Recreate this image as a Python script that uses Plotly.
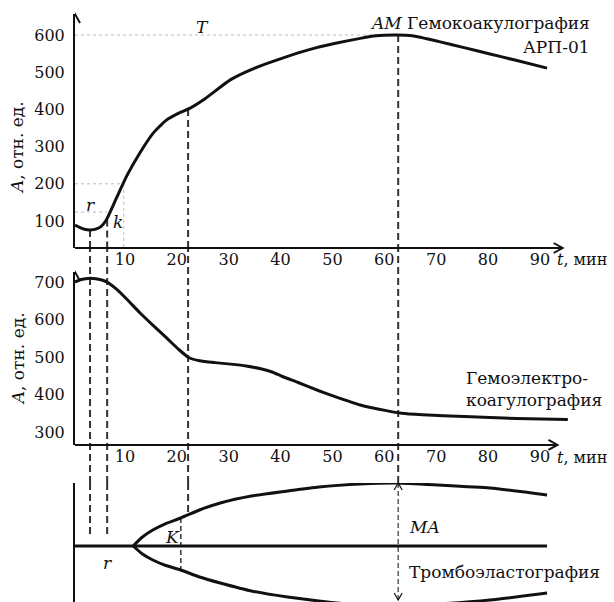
import plotly.graph_objects as go

# ---------------- data ----------------
ticks_t = [10, 20, 30, 40, 50, 60, 70, 80, 90]
ticks_top = [100, 200, 300, 400, 500, 600]
ticks_mid = [300, 400, 500, 600, 700]

# Гемокоакулография АРП-01
t_acoust = [0, 1, 2, 3, 4, 5, 6, 8, 10, 12.5, 15, 17.5, 20, 22, 25, 30, 35, 40, 45, 50, 55, 58, 62, 65, 70, 75, 80, 85, 91]
a_acoust = [89, 82, 77, 76, 78, 85, 102, 162, 222, 283, 335, 370, 390, 402, 428, 480, 513, 538, 560, 577, 591, 598, 600, 598, 583, 566, 549, 532, 511]

# Гемоэлектрокоагулография
t_elec = [0, 1, 2, 3, 4, 5, 6, 8, 10, 12.5, 15, 17.5, 20, 22, 24, 27, 30, 33, 36, 38, 40, 43, 47, 50, 55, 60, 63, 67, 75, 85, 95]
a_elec = [700, 706, 709, 710, 709, 706, 701, 681, 654, 618, 585, 553, 520, 498, 490, 485, 481, 476, 468, 460, 448, 432, 410, 395, 372, 357, 350, 346, 341, 336, 333]

# Тромбоэластография (envelope)
t_teg = [11.2, 13, 15, 17.5, 20.4, 24, 28, 34, 41, 47, 55, 62, 70, 80, 91]
teg_upper = [0, 9, 16, 22.5, 28, 36, 43, 50, 55, 59, 62, 63, 61, 58, 51]
teg_lower = [0, -8, -14, -19.5, -24, -31, -37, -45, -51, -55, -59, -60, -58, -54, -47]
t_base = [0, 91]
teg_base = [0, 0]

# marker times
t_r, t_k, t_T, t_K, t_AM = 2.9, 6.2, 21.8, 20.4, 62.3
a_r_top, a_k_top, a_T_top, a_AM_top = 76, 104, 401, 600

FONT = "DejaVu Serif"
BLACK = "#111"
DASHC = "#333"

fig = go.Figure()
line = dict(color=BLACK, width=3, shape="spline", smoothing=0.5)
fig.add_trace(go.Scatter(x=t_acoust, y=a_acoust, mode="lines", line=line, xaxis="x", yaxis="y", showlegend=False))
fig.add_trace(go.Scatter(x=t_elec, y=a_elec, mode="lines", line=line, xaxis="x2", yaxis="y2", showlegend=False))
fig.add_trace(go.Scatter(x=t_teg, y=teg_upper, mode="lines", line=line, xaxis="x3", yaxis="y3", showlegend=False))
fig.add_trace(go.Scatter(x=t_teg, y=teg_lower, mode="lines", line=line, xaxis="x3", yaxis="y3", showlegend=False))
fig.add_trace(go.Scatter(x=t_base, y=teg_base, mode="lines", line=dict(color=BLACK, width=3), xaxis="x3", yaxis="y3", showlegend=False))

shapes = []
dash = dict(color=DASHC, width=2, dash="7px,4px")

def vseg(t, yref, y0, y1, ln=dash):
    shapes.append(dict(type="line", xref="x", yref=yref, x0=t, x1=t, y0=y0, y1=y1, line=ln, layer="below"))

for t, top in [(t_r, a_r_top), (t_k, a_k_top), (t_T, a_T_top), (t_AM, a_AM_top)]:
    vseg(t, "y", top, 27.4)
    vseg(t, "y2 domain", -0.2197, 1.139)
vseg(t_r, "y3", 63, 9)
vseg(t_k, "y3", 63, 9)
vseg(t_T, "y3", 63, 31)
vseg(t_K, "y3", 28, -24, dict(color=DASHC, width=1.5, dash="5px,3px"))
vseg(t_AM, "y3", 63, -54, dict(color=DASHC, width=1.2, dash="5px,3px"))

dot = dict(color="#bbb", width=1, dash="dot")
shapes.append(dict(type="line", xref="x", yref="y", x0=0, x1=t_AM, y0=600, y1=600, line=dot, layer="below"))
shapes.append(dict(type="line", xref="x", yref="y", x0=0, x1=9.4, y0=200, y1=200, line=dot, layer="below"))
shapes.append(dict(type="line", xref="x", yref="y", x0=9.4, x1=9.4, y0=200, y1=27.4, line=dot, layer="below"))
shapes.append(dict(type="line", xref="x", yref="y", x0=0, x1=t_k, y0=124, y1=124, line=dot, layer="below"))

ax = dict(color=BLACK, width=2)
shapes.append(dict(type="line", xref="x", yref="y domain", x0=0, x1=94, y0=0, y1=0, line=ax))
shapes.append(dict(type="line", xref="x", yref="y2 domain", x0=0, x1=93, y0=0, y1=0, line=ax))

def chevron(xref, xa, yref, ya, path, width=2):
    shapes.append(dict(type="path", xref=xref, yref=yref, xsizemode="pixel", ysizemode="pixel",
                       xanchor=xa, yanchor=ya, path=path, line=dict(color=BLACK, width=width)))

right = "M -9,5 L 0,0 L -9,-5"
up = "M -5,-9 L 0,0 L 5,-9"
chevron("x", 94, "y domain", 0, right)
chevron("x", 93, "y2 domain", 0, right)
chevron("x", 0, "y domain", 1, up)
chevron("x", 0, "y2 domain", 1, up)
chevron("x", t_AM, "y3", 63, "M -4,-7 L 0,0 L 4,-7", 1.2)
chevron("x", t_AM, "y3", -54, "M -4,7 L 0,0 L 4,7", 1.2)

tickfont = dict(family=FONT, size=16, color=BLACK)
xcommon = dict(range=[0, 96], tickvals=ticks_t, showgrid=False, zeroline=False, showline=False,
               ticks="", tickfont=tickfont, fixedrange=True, ticklabelshift=-2)
ycommon = dict(showgrid=False, zeroline=False, showline=True, linecolor=BLACK, linewidth=2,
               ticks="", tickfont=tickfont, ticklabelstandoff=5, fixedrange=True)

ann = []
def txt(x, y, s, xref="x", yref="y", xanchor="center", yanchor="middle", size=17, angle=0, align="left"):
    ann.append(dict(x=x, y=y, xref=xref, yref=yref, text=s, showarrow=False, xanchor=xanchor,
                    yanchor=yanchor, textangle=angle, align=align,
                    font=dict(family=FONT, size=size, color=BLACK)))

# paper x = (px - 75) / 498
txt(24.5, 621, "<i>T</i>")
txt(1.039, 632, "<i>AM</i> Гемокоакулография", xref="paper", xanchor="right")
txt(1.039, 568, "АРП-01", xref="paper", xanchor="right")
txt(2.9, 143, "<i>r</i>")
txt(8.2, 97, "<i>k</i>")
txt(0.964, -0.05, "<i>t</i>, мин", xref="paper", yref="y domain", xanchor="left", size=16)
txt(0.964, -0.075, "<i>t</i>, мин", xref="paper", yref="y2 domain", xanchor="left", size=16)
txt(-0.115, 0.43, "<i>A</i>, отн. ед.", xref="paper", yref="y domain", angle=-90)
txt(-0.115, 0.5, "<i>A</i>, отн. ед.", xref="paper", yref="y2 domain", angle=-90)
txt(1.062, 414, "Гемоэлектро-<br>коагулография", xref="paper", yref="y2", xanchor="right")
txt(64.0, 19, "<i>MA</i>", yref="y3", xanchor="left")
txt(1.058, -26, "Тромбоэластография", xref="paper", yref="y3", xanchor="right")
txt(6.2, -17, "<i>r</i>", yref="y3")
txt(18.7, 9, "<i>K</i>", yref="y3")

fig.update_layout(
    width=614, height=602,
    margin=dict(l=75, r=41, t=0, b=0),
    paper_bgcolor="white", plot_bgcolor="white",
    font=dict(family=FONT, color=BLACK),
    xaxis=dict(xcommon, anchor="y", domain=[0, 1]),
    xaxis2=dict(xcommon, anchor="y2", domain=[0, 1]),
    xaxis3=dict(xcommon, anchor="y3", domain=[0, 1], showticklabels=False),
    yaxis=dict(ycommon, anchor="x", domain=[0.58804, 0.97674], range=[27.4, 656.5], tickvals=ticks_top),
    yaxis2=dict(ycommon, anchor="x2", domain=[0.26080, 0.54817], range=[265.3, 726.7], tickvals=ticks_mid),
    yaxis3=dict(ycommon, anchor="x3", domain=[0, 0.19767], range=[-56, 63], showticklabels=False),
    shapes=shapes, annotations=ann,
)

fig.write_html("out.html", config={"displayModeBar": False},
               post_script="document.body.style.margin='0';document.body.style.overflow='hidden';")
